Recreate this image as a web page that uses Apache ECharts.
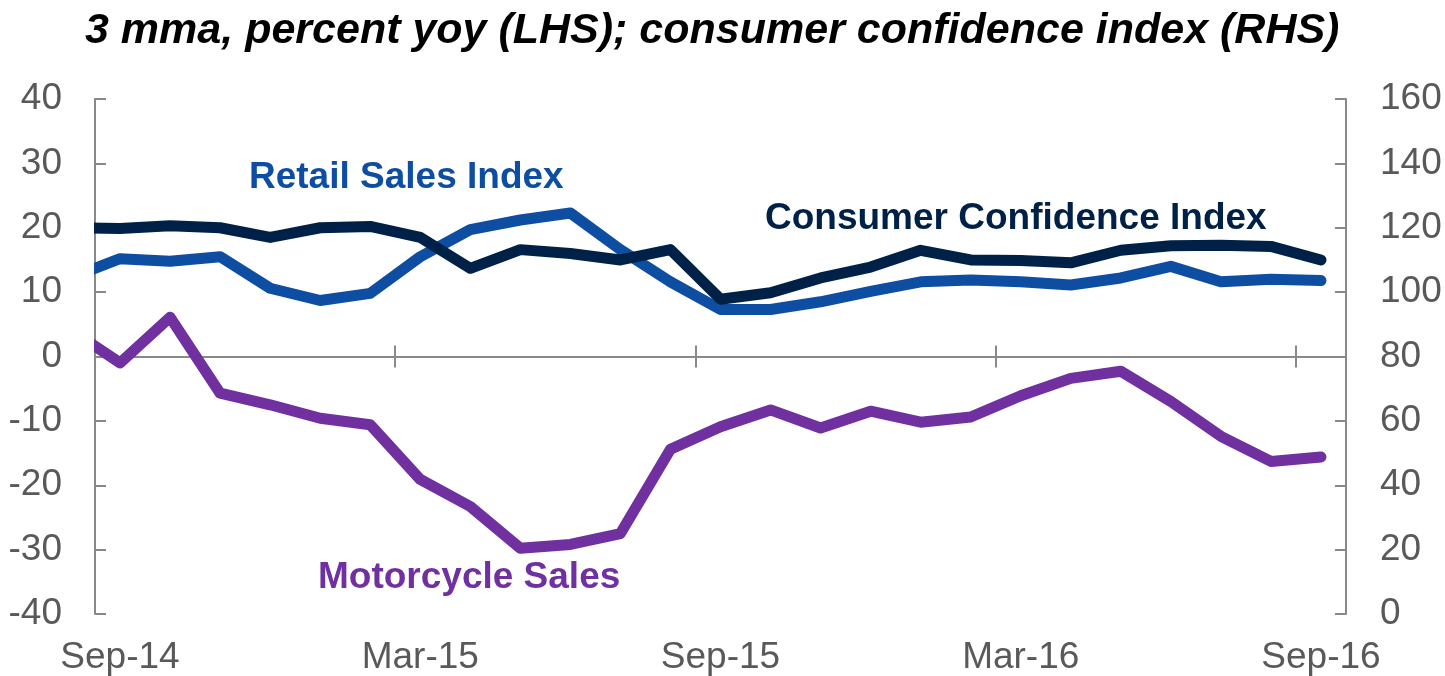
<!DOCTYPE html>
<html>
<head>
<meta charset="utf-8">
<script src="https://cdn.jsdelivr.net/npm/echarts@6/dist/echarts.min.js"></script>
<style>
  html, body { margin: 0; padding: 0; background: #fff; }
  #chart { width: 1445px; height: 676px; }
</style>
</head>
<body>
<div id="chart"></div>
<script>
// monthly, Aug-14 is only there so the first segment runs into the left axis
const months = ['Aug-14', 'Sep-14', 'Oct-14', 'Nov-14', 'Dec-14', 'Jan-15', 'Feb-15', 'Mar-15', 'Apr-15',
  'May-15', 'Jun-15', 'Jul-15', 'Aug-15', 'Sep-15', 'Oct-15', 'Nov-15', 'Dec-15', 'Jan-16', 'Feb-16',
  'Mar-16', 'Apr-16', 'May-16', 'Jun-16', 'Jul-16', 'Aug-16', 'Sep-16'];
const tickLabels = ['Sep-14', 'Mar-15', 'Sep-15', 'Mar-16', 'Sep-16'];

// 3mma, % yoy (LHS)
const retailSales = [12.2, 15.2, 14.8, 15.5, 10.6, 8.7, 9.8, 15.5, 19.7, 21.2, 22.3, 16.6, 11.6,
  7.3, 7.3, 8.5, 10.1, 11.6, 11.9, 11.6, 11.1, 12.2, 14.0, 11.6, 12.0, 11.8];
const motorcycleSales = [4.2, -1.0, 6.1, -5.7, -7.5, -9.6, -10.6, -19.1, -23.3, -29.8, -29.2, -27.5, -14.4,
  -10.9, -8.3, -11.1, -8.5, -10.2, -9.4, -6.1, -3.4, -2.3, -7.0, -12.4, -16.3, -15.6];
// index (RHS)
const consumerConfidence = [120, 119.8, 120.6, 120, 117, 120, 120.4, 117, 107.4, 113.2, 112, 110, 113.2,
  97.8, 99.8, 104.4, 107.8, 113, 110, 109.8, 109.1, 113, 114.4, 114.6, 114.2, 110];

// x position = month index, Sep-14 = 0
const toPoints = arr => arr.map((v, i) => [i - 1, v]);
const labelIdx = tickLabels.map(t => months.indexOf(t) - 1);
const boundaryIdx = labelIdx.slice(1).map(i => i - 0.5);

const grey = '#898989';
const txt = '#595959';
const font = 'Liberation Sans, Arial, sans-serif';

const chart = echarts.init(document.getElementById('chart'));

const xBase = { type: 'value', min: -0.5, max: 24.5, splitLine: { show: false } };

chart.setOption({
  animation: false,
  grid: { left: 95, right: 99, top: 99, bottom: 62, containLabel: false },
  xAxis: [
    Object.assign({}, xBase, {
      position: 'bottom',
      axisLine: { show: false, onZero: false },
      axisTick: { show: false },
      axisLabel: {
        customValues: labelIdx,
        formatter: v => months[Math.round(v) + 1],
        color: txt, fontSize: 37, fontFamily: font, margin: 25
      }
    }),
    Object.assign({}, xBase, {
      position: 'bottom',
      axisLine: { show: true, onZero: true, onZeroAxisIndex: 0, lineStyle: { color: grey, width: 2 } },
      axisTick: { show: true, inside: true, length: 11, customValues: boundaryIdx, lineStyle: { color: grey, width: 2 } },
      axisLabel: { show: false }
    }),
    Object.assign({}, xBase, {
      position: 'top',
      axisLine: { show: false, onZero: true, onZeroAxisIndex: 0 },
      axisTick: { show: true, inside: true, length: 11, customValues: boundaryIdx, lineStyle: { color: grey, width: 2 } },
      axisLabel: { show: false }
    })
  ],
  yAxis: [
    {
      type: 'value', min: -40, max: 40, interval: 10, position: 'left',
      axisLine: { show: true, onZero: false, lineStyle: { color: grey, width: 2 } },
      axisTick: { show: true, inside: true, length: 11, lineStyle: { color: grey, width: 2 } },
      axisLabel: { color: txt, fontSize: 37, fontFamily: font, margin: 33 },
      splitLine: { show: false }
    },
    {
      type: 'value', min: 0, max: 160, interval: 20, position: 'right',
      axisLine: { show: true, onZero: false, lineStyle: { color: grey, width: 2 } },
      axisTick: { show: true, inside: true, length: 11, lineStyle: { color: grey, width: 2 } },
      axisLabel: { color: txt, fontSize: 37, fontFamily: font, margin: 34 },
      splitLine: { show: false }
    }
  ],
  series: [
    {
      name: 'Motorcycle Sales', type: 'line', xAxisIndex: 0, yAxisIndex: 0,
      data: toPoints(motorcycleSales), showSymbol: false, clip: true,
      lineStyle: { color: '#7030A0', width: 11, cap: 'round', join: 'round' }
    },
    {
      name: 'Retail Sales Index', type: 'line', xAxisIndex: 0, yAxisIndex: 0,
      data: toPoints(retailSales), showSymbol: false, clip: true,
      lineStyle: { color: '#0D4EA2', width: 11, cap: 'round', join: 'round' }
    },
    {
      name: 'Consumer Confidence Index', type: 'line', xAxisIndex: 0, yAxisIndex: 1,
      data: toPoints(consumerConfidence), showSymbol: false, clip: true,
      lineStyle: { color: '#002147', width: 11, cap: 'round', join: 'round' }
    }
  ],
  graphic: [
    // mask the bit of stroke that the clip margin lets past the left axis
    {
      type: 'rect', z: 100, shape: { x: 80, y: 95, width: 14, height: 525 },
      style: { fill: '#fff' }, silent: true
    },
    {
      type: 'text', left: 85, top: 10,
      style: { text: '3 mma, percent yoy (LHS); consumer confidence index (RHS)', fill: '#000',
        font: 'italic bold 43px ' + font }
    },
    {
      type: 'text', x: 249, y: 178,
      style: { text: 'Retail Sales Index', fill: '#0D4EA2', font: 'bold 37px ' + font, verticalAlign: 'middle' }
    },
    {
      type: 'text', x: 765, y: 219,
      style: { text: 'Consumer Confidence Index', fill: '#002147', font: 'bold 37px ' + font, verticalAlign: 'middle' }
    },
    {
      type: 'text', x: 318, y: 578,
      style: { text: 'Motorcycle Sales', fill: '#7030A0', font: 'bold 37px ' + font, verticalAlign: 'middle' }
    }
  ]
});
</script>
</body>
</html>
